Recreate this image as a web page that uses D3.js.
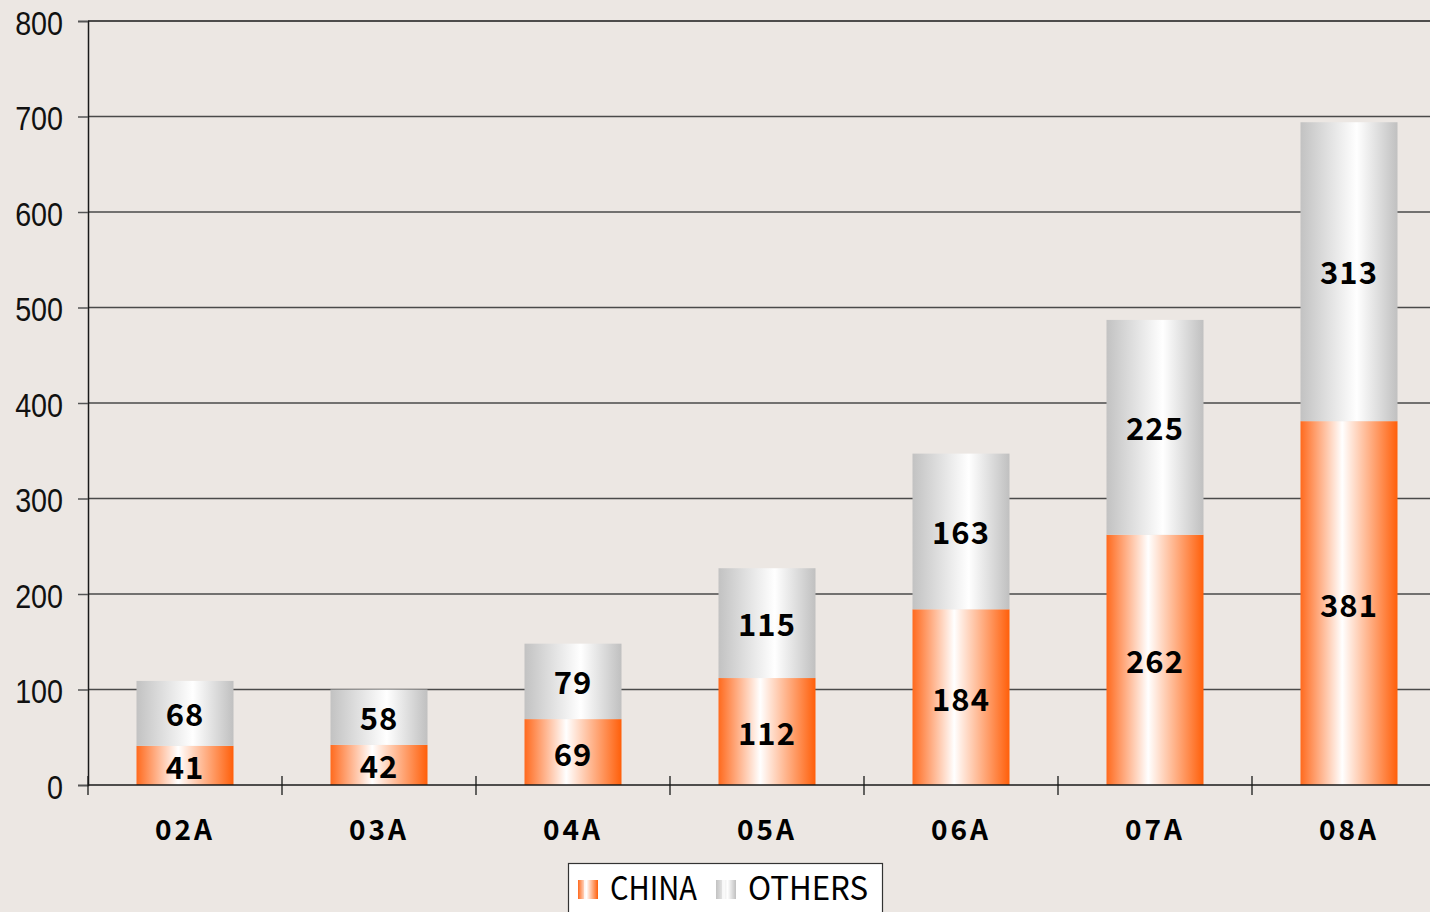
<!DOCTYPE html>
<html>
<head>
<meta charset="utf-8">
<script src="https://cdn.jsdelivr.net/npm/d3@7"></script>
<style>
  body { margin: 0; background: #ece7e3; }
  svg { display: block; }
  .ytick text { font-family: "Liberation Sans", sans-serif; font-size: 33px; fill: #111; }
  .barlbl { font-family: "Noto Sans CJK JP", "DejaVu Sans", sans-serif; font-weight: bold; font-size: 31px; fill: #000; letter-spacing: 1px; }
  .catlbl { font-family: "Noto Sans CJK JP", "DejaVu Sans", sans-serif; font-weight: bold; font-size: 28px; fill: #000; letter-spacing: 3px; }
  .legend { font-family: "Noto Sans CJK JP", "DejaVu Sans", sans-serif; font-size: 33px; fill: #000; }
</style>
</head>
<body>
<script>
// data
var years  = ["02A", "03A", "04A", "05A", "06A", "07A", "08A"];
var china  = [41, 42, 69, 112, 184, 262, 381];
var others = [68, 58, 79, 115, 163, 225, 313];
var yTicks = [0, 100, 200, 300, 400, 500, 600, 700, 800];
var seriesNames = ["CHINA", "OTHERS"];

var W = 1430, H = 912;
var margin = {top: 21, left: 88, bottom: 127};
var plotH = H - margin.top - margin.bottom;   // 0 sits at y=785

var svg = d3.select("body").append("svg")
    .attr("width", W)
    .attr("height", H);

var defs = svg.append("defs");

// orange: edges strong orange, white a bit left of centre
var gO = defs.append("linearGradient").attr("id", "gOrange")
    .attr("x1", "0%").attr("x2", "100%").attr("y1", "0%").attr("y2", "0%");
gO.append("stop").attr("offset", "0%").attr("stop-color", "#ff6a1e");
gO.append("stop").attr("offset", "43%").attr("stop-color", "#ffffff");
gO.append("stop").attr("offset", "100%").attr("stop-color", "#ff5f0a");

// grey
var gG = defs.append("linearGradient").attr("id", "gGrey")
    .attr("x1", "0%").attr("x2", "100%").attr("y1", "0%").attr("y2", "0%");
gG.append("stop").attr("offset", "0%").attr("stop-color", "#c2c2c2");
gG.append("stop").attr("offset", "58%").attr("stop-color", "#ffffff");
gG.append("stop").attr("offset", "100%").attr("stop-color", "#c0c0c0");

var x = d3.scaleBand()
    .domain(years)
    .range([margin.left, margin.left + 7 * 194])
    .paddingInner(0.5)
    .paddingOuter(0.25);

var y = d3.scaleLinear()
    .domain([0, 800])
    .range([margin.top + plotH, margin.top]);

// ---- grid lines
svg.append("g")
    .selectAll("line")
    .data(yTicks.filter(function(d) { return d > 0; }))
    .join("line")
        .attr("x1", margin.left)
        .attr("x2", W)
        .attr("y1", function(d) { return y(d); })
        .attr("y2", function(d) { return y(d); })
        .attr("stroke", function(d) { return d == 800 ? "#1a1a1a" : "#4a4a4a"; })
        .attr("stroke-width", function(d) { return d == 800 ? 1.5 : 1.3; });

// ---- y axis
var yAxis = svg.append("g")
    .attr("class", "ytick")
    .attr("transform", "translate(" + margin.left + ",0)")
    .call(d3.axisLeft(y).tickValues(yTicks).tickSize(10));
yAxis.select(".domain").attr("stroke", "#1a1a1a").attr("stroke-width", 1.5);
yAxis.selectAll(".tick line").attr("stroke", "#555").attr("stroke-width", 1.5);
// narrow the tick labels a little (the original font is condensed)
yAxis.selectAll(".tick text")
    .attr("x", -25 / 0.87)
    .attr("dy", "0.4em")
    .attr("transform", "scale(0.87,1)");

// ---- stacked bars
var data = years.map(function(d, i) {
    return {year: d, china: china[i], others: others[i]};
});

var bars = svg.append("g");
bars.selectAll("rect.c")
    .data(data)
    .join("rect")
        .attr("class", "c")
        .attr("x", function(d) { return x(d.year); })
        .attr("width", x.bandwidth())
        .attr("y", function(d) { return y(d.china); })
        .attr("height", function(d) { return y(0) - y(d.china); })
        .attr("fill", "url(#gOrange)");
bars.selectAll("rect.o")
    .data(data)
    .join("rect")
        .attr("class", "o")
        .attr("x", function(d) { return x(d.year); })
        .attr("width", x.bandwidth())
        .attr("y", function(d) { return y(d.china + d.others); })
        .attr("height", function(d) { return y(d.china) - y(d.china + d.others); })
        .attr("fill", "url(#gGrey)");

// value labels
bars.selectAll("text.lc")
    .data(data)
    .join("text")
        .attr("class", "barlbl")
        .attr("text-anchor", "middle")
        .attr("dominant-baseline", "central")
        .attr("x", function(d) { return x(d.year) + x.bandwidth() / 2; })
        .attr("y", function(d) { return y(d.china / 2); })
        .text(function(d) { return d.china; });
bars.selectAll("text.lo")
    .data(data)
    .join("text")
        .attr("class", "barlbl")
        .attr("text-anchor", "middle")
        .attr("dominant-baseline", "central")
        .attr("x", function(d) { return x(d.year) + x.bandwidth() / 2; })
        .attr("y", function(d) { return y(d.china + d.others / 2) - 1; })
        .text(function(d) { return d.others; });

// ---- x axis (line, boundary ticks, labels)
svg.append("line")
    .attr("x1", margin.left).attr("x2", W)
    .attr("y1", y(0)).attr("y2", y(0))
    .attr("stroke", "#1a1a1a").attr("stroke-width", 1.5);

var bounds = d3.range(years.length + 1).map(function(i) { return x.range()[0] + i * x.step(); });
svg.append("g")
    .selectAll("line")
    .data(bounds)
    .join("line")
        .attr("x1", function(d) { return d; })
        .attr("x2", function(d) { return d; })
        .attr("y1", y(0) - 9)
        .attr("y2", y(0) + 10)
        .attr("stroke", "#1a1a1a")
        .attr("stroke-width", 1.3);

svg.append("g")
    .selectAll("text")
    .data(years)
    .join("text")
        .attr("class", "catlbl")
        .attr("text-anchor", "middle")
        .attr("x", function(d) { return x(d) + x.bandwidth() / 2; })
        .attr("y", y(0) + 55)
        .text(function(d) { return d; });

// ---- legend
var lg = svg.append("g").attr("transform", "translate(568,863)");
lg.append("rect")
    .attr("x", 0.5).attr("y", 0.5)
    .attr("width", 314).attr("height", 60)
    .attr("fill", "#ffffff")
    .attr("stroke", "#333")
    .attr("stroke-width", 1.2);

var legX = [10, 148];
var legLen = [87, 120];   // the original text is narrow and widely spaced
var legFill = ["url(#gOrange)", "url(#gGrey)"];
seriesNames.forEach(function(name, i) {
    var g = lg.append("g").attr("transform", "translate(" + legX[i] + ",0)");
    // little striped swatch
    g.append("rect").attr("x", 0).attr("y", 17).attr("width", 20).attr("height", 19)
        .attr("fill", legFill[i]);
    g.append("rect").attr("x", 6).attr("y", 17).attr("width", 3).attr("height", 19)
        .attr("fill", "#fff").attr("opacity", 0.7);
    g.append("text")
        .attr("class", "legend")
        .attr("x", 32)
        .attr("y", 37)
        .attr("textLength", legLen[i])
        .attr("lengthAdjust", "spacingAndGlyphs")
        .text(name);
});
</script>
</body>
</html>
